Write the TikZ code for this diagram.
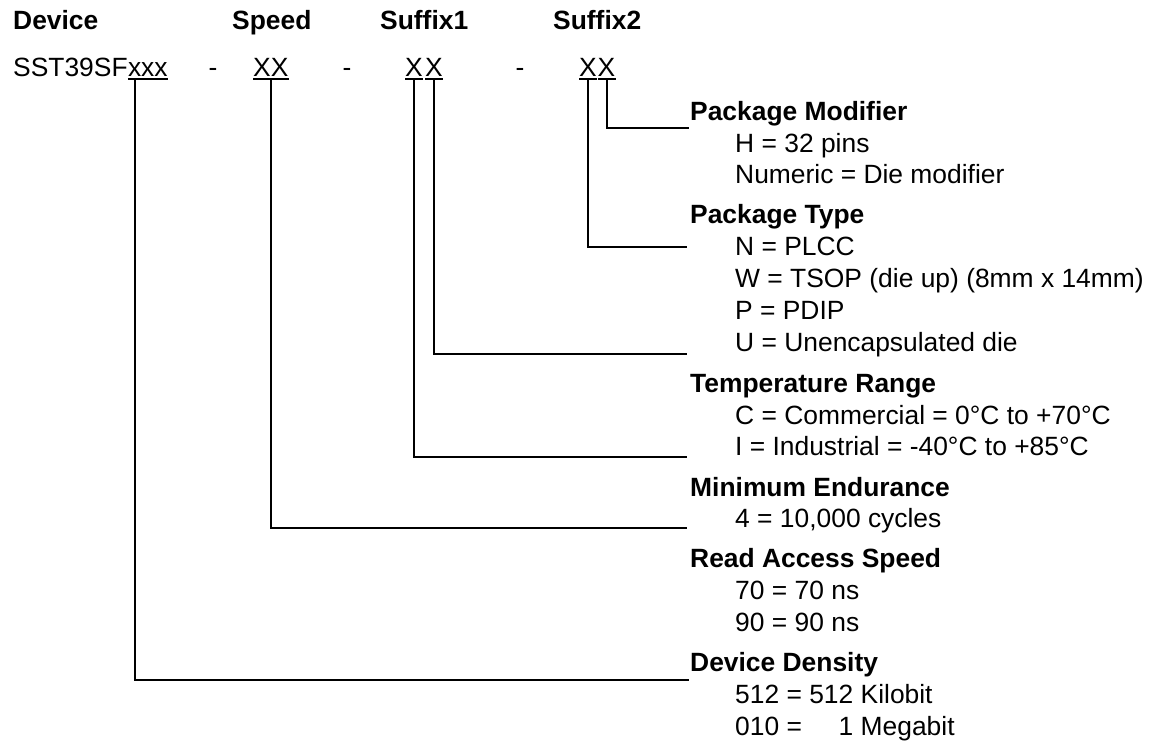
\documentclass[tikz,border=0pt]{standalone}
\usepackage{fontspec}
\setmainfont{Liberation Sans}
\begin{document}
\begin{tikzpicture}[x=1pt,y=-1pt,
  every node/.style={inner sep=0pt, anchor=base west, font=\fontsize{26.4}{31.7}\selectfont},
  hd/.style={font=\fontsize{26.4}{31.7}\selectfont\bfseries},
  dashnode/.style={anchor=base},
  conn/.style={line width=2pt, line join=miter},
  ul/.style={line width=1.5pt}]
\useasboundingbox (0,0) rectangle (1150,742);
% column headings
\node[hd] (hDev) at (13,29) {Device};
\node[hd] (hSpd) at (232,29) {Speed};
\node[hd] (hS1) at (380,29) {Suffix1};
\node[hd] (hS2) at (553,29) {Suffix2};
% part number row
\node (pn) at (13,76.5) {SST39SF};
\node (dx) at (pn.base east) {xxx};
\node[dashnode] (d1) at (213,76.5) {-};
\node (sp) at (253,76.5) {XX};
\node[dashnode] (d2) at (347,76.5) {-};
\node (s1a) at (405,76.5) {X};
\node (s1b) at (425,76.5) {X};
\node[dashnode] (d3) at (520,76.5) {-};
\node (s2a) at (579,76.5) {X};
\node (s2b) at (597.5,76.5) {X};
% underlines
\foreach \n in {dx,sp,s1a,s1b,s2a,s2b}
  \draw[ul] ([yshift=-2.5pt]\n.base west) -- ([yshift=-2.5pt]\n.base east);
% taps
\coordinate (tD) at ([xshift=7.5pt,yshift=-2.5pt]dx.base west);
\coordinate (tSp) at ([yshift=-2.5pt]sp.base);
\coordinate (tS1a) at ([yshift=-2.5pt]s1a.base);
\coordinate (tS1b) at ([yshift=-2.5pt]s1b.base);
\coordinate (tS2a) at ([yshift=-2.5pt]s2a.base);
\coordinate (tS2b) at ([yshift=-2.5pt]s2b.base);
% right column
\node[hd] (pm) at (690,120) {Package Modifier};
\node (pm1) at (735,152) {H = 32 pins};
\node (pm2) at (735,183) {Numeric = Die modifier};
\node[hd] (pt) at (690,223) {Package Type};
\node (pt1) at (735,255.5) {N = PLCC};
\node (pt2) at (735,287) {W = TSOP (die up) (8mm x 14mm)};
\node (pt3) at (735,319.5) {P = PDIP};
\node (pt4) at (735,351) {U = Unencapsulated die};
\node[hd] (tr) at (690,392) {Temperature Range};
\node (tr1) at (735,424.5) {C = Commercial = 0°C to +70°C};
\node (tr2) at (735,455) {I = Industrial = -40°C to +85°C};
\node[hd] (me) at (690,496.5) {Minimum Endurance};
\node (me1) at (735,527) {4 = 10,000 cycles};
\node[hd] (ra) at (690,567) {Read Access Speed};
\node (ra1) at (735,599.5) {70 = 70 ns};
\node (ra2) at (735,631) {90 = 90 ns};
\node[hd] (dd) at (690,671) {Device Density};
\node (dd1) at (735,703) {512 = 512 Kilobit};
\node (dd2) at (735,735) {010 = \hphantom{51}1 Megabit};
% connector ends
\coordinate (eT) at (687,247);
\coordinate (eU) at (687,354);
\coordinate (eI) at (687,457);
\coordinate (eE) at (687,528);
% connectors
\draw[conn] (tS2b) |- ([xshift=-1pt,yshift=-8pt]pm.base west);
\draw[conn] (tS2a) |- (eT);
\draw[conn] (tS1b) |- (eU);
\draw[conn] (tS1a) |- (eI);
\draw[conn] (tSp) |- (eE);
\draw[conn] (tD) |- ([xshift=-1pt,yshift=-9pt]dd.base west);
\end{tikzpicture}
\end{document}
